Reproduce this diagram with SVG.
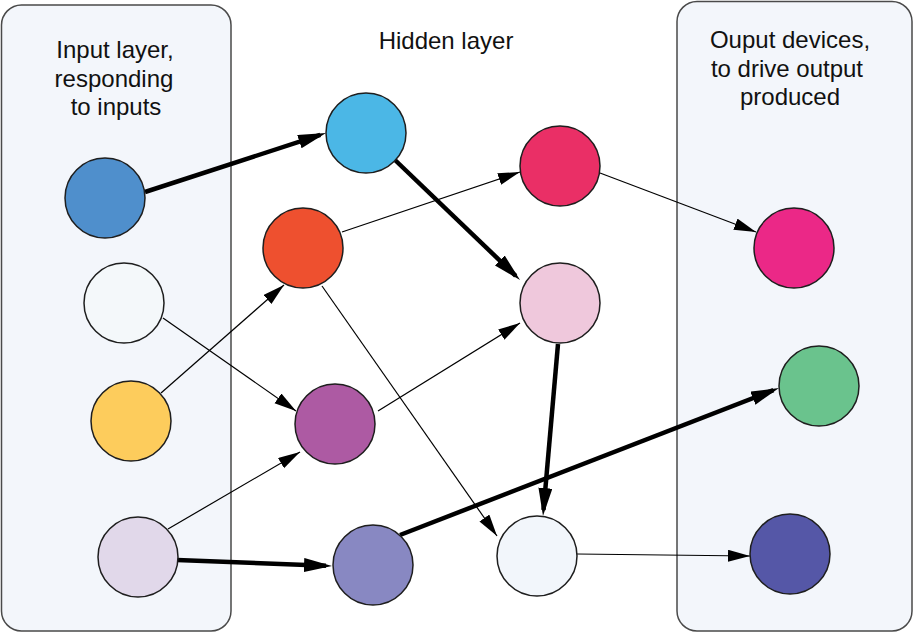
<svg xmlns="http://www.w3.org/2000/svg" width="914" height="633" viewBox="0 0 914 633">
<style>
.panel{fill:#f3f6fb;stroke:#4a4a4a;stroke-width:1.5}
.node{stroke:#1e1e1e;stroke-width:1.5}
.lbl{font-family:"Liberation Sans",Arial,sans-serif;font-size:24px;fill:#111;text-anchor:middle}
.thick{stroke:#000;stroke-width:4.5;fill:none;marker-end:url(#ah)}
.thin{stroke:#000;stroke-width:1.2;fill:none;marker-end:url(#at)}
</style>
<defs>
<marker id="ah" markerUnits="userSpaceOnUse" markerWidth="30" markerHeight="16" refX="22" refY="7" orient="auto">
<path d="M0,0 L28,7 L0,14 z" fill="#000"/>
</marker>
<marker id="at" markerUnits="userSpaceOnUse" markerWidth="24" markerHeight="14" refX="22" refY="6" orient="auto">
<path d="M0,0 L22,6 L0,12 z" fill="#000"/>
</marker>
</defs>
<rect width="914" height="633" fill="#fff"/>
<g id="input-panel">
<rect class="panel" x="1.5" y="5" width="229.5" height="626" rx="20"/>
<text class="lbl" x="115" y="58">Input layer,</text>
<text class="lbl" x="114" y="87">responding</text>
<text class="lbl" x="116" y="115">to inputs</text>
</g>
<g id="output-panel">
<rect class="panel" x="677" y="1.5" width="235" height="629.5" rx="20"/>
<text class="lbl" x="790" y="48">Ouput devices,</text>
<text class="lbl" x="787" y="77">to drive output</text>
<text class="lbl" x="790" y="105">produced</text>
</g>
<g id="hidden-label">
<text class="lbl" x="446" y="49">Hidden layer</text>
</g>
<g id="connectors">
<path class="thick" d="M145,192 L320.3,134.9"/>
<path class="thick" d="M395,160 L515.7,275.8"/>
<path class="thick" d="M558,344 L543.5,510"/>
<path class="thick" d="M177,560 L326,565.8"/>
<path class="thick" d="M400,535 L773.4,390.2"/>
<path class="thin" d="M342,232 L520,172"/>
<path class="thin" d="M600,173 L756,232"/>
<path class="thin" d="M163,318 L296,411"/>
<path class="thin" d="M161,393 L284,285"/>
<path class="thin" d="M168,529 L300,452"/>
<path class="thin" d="M378,411 L520,323"/>
<path class="thin" d="M322,286 L497,536"/>
<path class="thin" d="M577,554 L750,556"/>
</g>
<g id="in1"><circle class="node" cx="105" cy="198" r="40" fill="#4f8fcc"/></g>
<g id="in2"><circle class="node" cx="124" cy="303" r="40" fill="#f4f8fa"/></g>
<g id="in3"><circle class="node" cx="131" cy="421" r="40" fill="#fdcc5c"/></g>
<g id="in4"><circle class="node" cx="138" cy="557" r="40" fill="#e1d8ea"/></g>
<g id="h1"><circle class="node" cx="366" cy="133" r="40" fill="#4bb7e6"/></g>
<g id="h2"><circle class="node" cx="303" cy="248" r="40" fill="#ee502f"/></g>
<g id="h3"><circle class="node" cx="335" cy="424" r="40" fill="#ad5aa3"/></g>
<g id="h4"><circle class="node" cx="373" cy="565" r="40" fill="#8888c2"/></g>
<g id="h5"><circle class="node" cx="560" cy="166" r="40" fill="#ea2f66"/></g>
<g id="h6"><circle class="node" cx="560" cy="303" r="40" fill="#efc8dc"/></g>
<g id="h7"><circle class="node" cx="537" cy="556" r="40" fill="#f2f6fb"/></g>
<g id="out1"><circle class="node" cx="794" cy="248" r="40" fill="#eb2887"/></g>
<g id="out2"><circle class="node" cx="819" cy="386" r="40" fill="#6ac38d"/></g>
<g id="out3"><circle class="node" cx="790" cy="554" r="40" fill="#5557a7"/></g>
</svg>
